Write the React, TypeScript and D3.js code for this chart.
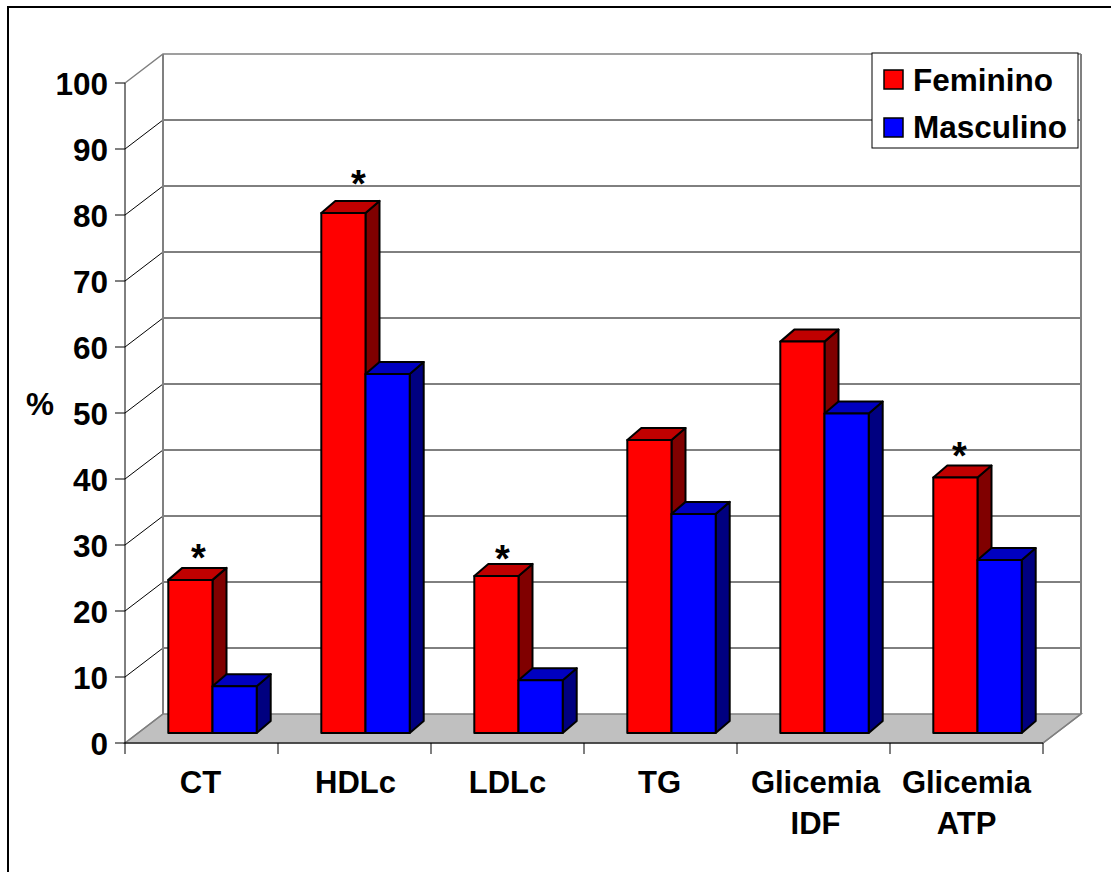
import * as d3 from "d3"

const categories = ["CT", "HDLc", "LDLc", "TG", "Glicemia IDF", "Glicemia ATP"]
const feminino = [23.2, 78.8, 23.8, 44.4, 59.3, 38.7]
const masculino = [7.1, 54.4, 8, 33.2, 48.4, 26.2]
const ticks = [0, 10, 20, 30, 40, 50, 60, 70, 80, 90, 100]
// hand placed asterisks in the original: [category, level on the axis, nudge]
const stars: [string, number, number][] = [
  ["CT", 26.9, 8],
  ["HDLc", 83.6, 15],
  ["LDLc", 26.8, 6],
  ["Glicemia ATP", 42.4, 4],
]
// the category labels sit slightly off centre in the original
const labelNudge = [0, 2, 1, 0, 3, 1]

const FONT = "'Liberation Sans', Arial, sans-serif"
const depthX = 38
const depthY = 29
const barDx = 14
const barDy = 12

const x = d3.scaleBand().domain(categories).range([125, 1043])
const y = d3.scaleLinear().domain([0, 100]).range([743, 83])
// bars stand a little in front of the back wall, on the floor
const barY = (v: number) => y(v) - 10

function Bar({ left, w, v, front, top, side }: { left: number; w: number; v: number; front: string; top: string; side: string }) {
  const t = barY(v)
  const b = barY(0)
  const r = left + w
  return (
    <g stroke="#000" strokeWidth={2} strokeLinejoin="round">
      <path d={`M${r},${t}L${r + barDx},${t - barDy}V${b - barDy}L${r},${b}Z`} fill={side} />
      <path d={`M${left},${t}L${left + barDx},${t - barDy}H${r + barDx}L${r},${t}Z`} fill={top} />
      <rect x={left} y={t} width={w} height={b - t} fill={front} />
    </g>
  )
}

export default function App() {
  const left = x.range()[0]
  const right = x.range()[1]
  const y0 = y(0)
  const y100 = y(100)
  const bw = 44.2
  const offset = 43.3

  return (
    <svg width={1111} height={872} style={{ position: "absolute", left: 0, top: 0, background: "#fff" }} fontFamily={FONT} fontWeight={700}>
      <rect x={8} y={7} width={1200} height={1000} fill="#fff" stroke="#000" strokeWidth={2} />

      {/* floor and walls */}
      <path
        d={`M${left},${y0}L${left + depthX},${y0 - depthY}H${right + depthX}L${right},${y0}Z`}
        fill="#c0c0c0"
        stroke="#808080"
        strokeWidth={1.5}
      />
      {ticks.slice(1).map((t) => (
        <path
          key={t}
          d={`M${left},${y(t)}L${left + depthX},${y(t) - depthY}H${right + depthX}`}
          fill="none"
          stroke={t === 100 ? "#808080" : "#000"}
          strokeWidth={t === 100 ? 1.5 : 1}
        />
      ))}
      <path d={`M${left + depthX},${y0 - depthY}V${y100 - depthY}`} stroke="#808080" strokeWidth={2} />
      <path d={`M${right + depthX},${y0 - depthY}V${y100 - depthY}`} stroke="#808080" strokeWidth={2} />
      <path d={`M${left},${y0}L${left + depthX},${y0 - depthY}`} stroke="#808080" strokeWidth={1.5} />
      <path d={`M${right},${y0}L${right + depthX},${y0 - depthY}`} stroke="#808080" strokeWidth={1.5} />

      {/* axes */}
      <path d={`M${left},${y100}V${y0}H${right}`} fill="none" stroke="#000" strokeWidth={1} />
      {ticks.map((t) => (
        <g key={t}>
          <line x1={left - 10} x2={left} y1={y(t)} y2={y(t)} stroke="#000" />
          <text x={108} y={y(t) + 11.5} textAnchor="end" fontSize={31.5}>
            {t}
          </text>
        </g>
      ))}
      {[...categories.map((c) => x(c) as number), right].map((px) => (
        <line key={px} x1={px} x2={px} y1={y0} y2={y0 + 11} stroke="#000" />
      ))}
      <text x={40} y={415} textAnchor="middle" fontSize={31.5}>
        %
      </text>

      {categories.map((c, i) => (
        <g key={c}>
          <Bar left={(x(c) as number) + offset} w={bw} v={feminino[i]} front="#ff0000" top="#c00000" side="#800000" />
          <Bar left={(x(c) as number) + offset + bw} w={bw} v={masculino[i]} front="#0000ff" top="#0000c0" side="#000080" />
        </g>
      ))}

      {categories.map((c, i) => {
        const cx = (x(c) as number) + x.bandwidth() / 2 - 1 + labelNudge[i]
        const lines = c.split(" ")
        return (
          <text key={c} textAnchor="middle" fontSize={31}>
            {lines.map((l, j) => (
              <tspan key={l} x={cx} y={793 + j * 41}>
                {l}
              </tspan>
            ))}
          </text>
        )
      })}

      {stars.map(([c, level, nudge]) => (
        <text key={c} x={(x(c) as number) + offset + bw / 2 + nudge} y={barY(level) + 16} textAnchor="middle" fontSize={38}>
          *
        </text>
      ))}

      {/* legend */}
      <rect x={872} y={53} width={206} height={95} fill="#fff" stroke="#000" strokeWidth={1} />
      <rect x={884} y={70} width={19} height={19} fill="#ff0000" stroke="#000" strokeWidth={1.5} />
      <rect x={884} y={118} width={19} height={19} fill="#0000ff" stroke="#000" strokeWidth={1.5} />
      <text x={913} y={91} fontSize={31.5}>
        Feminino
      </text>
      <text x={913} y={138} fontSize={31.5}>
        Masculino
      </text>
    </svg>
  )
}
